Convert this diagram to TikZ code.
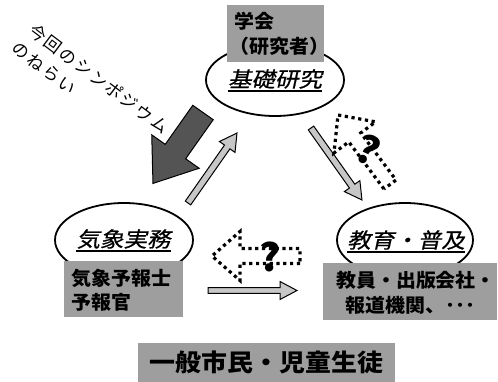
\documentclass[tikz,border=0pt]{standalone}
\usepackage{fontspec}
\usetikzlibrary{shapes.geometric}
\newfontfamily\cjk{Noto Sans CJK JP}[FakeStretch=1.05]
\newfontfamily\cjkit{Noto Sans CJK JP}[FakeStretch=1.12,FakeSlant=0.22,FakeBold=0.6]
\newfontfamily\cjkrot{Noto Sans CJK JP}[LetterSpace=12]
\newfontfamily\cjkbig{Noto Sans CJK JP}[FakeStretch=1.08]
\definecolor{boxgray}{gray}{0.62}
\definecolor{darkarr}{gray}{0.33}
\definecolor{lightarr}{gray}{0.78}
\tikzset{
  pics/blockarrow/.style n args={4}{code={
    \path[pic actions] (0,-#2) -- ({#1-#3},-#2) -- ({#1-#3},-#4) -- (#1,0)
      -- ({#1-#3},#4) -- ({#1-#3},#2) -- (0,#2) -- cycle;
  }},
  ell/.style={ellipse, draw, line width=1.8pt, fill=white, inner sep=0},
  gbox/.style={rectangle, fill=boxgray, inner sep=0},
  btxt/.style={inner sep=0, font=\cjk\bfseries\fontsize{19}{22}\selectfont},
  lbl/.style={inner sep=0, font=\cjkit\fontsize{21}{24}\selectfont},
  rottxt/.style={inner sep=0, rotate=-37, font=\cjkrot\fontsize{17}{20}\selectfont},
  qm/.style={inner sep=0, font=\cjk\bfseries\fontsize{38}{44}\selectfont},
  bigtxt/.style={inner sep=0, font=\cjkbig\bfseries\fontsize{24}{28}\selectfont},
  dotline/.style={draw, line width=3.2pt, dash pattern=on 3.2pt off 3.6pt},
  darrow/.style={draw, fill=darkarr, line width=1pt},
  larrow/.style={draw, fill=lightarr, line width=1pt},
  uline/.style={line width=1.6pt}
}
\begin{document}
\begin{tikzpicture}[x=1pt,y=-1pt]
\useasboundingbox (0,0) rectangle (498,382);

% rotated text
\node[rottxt] (r1) at (99,79) {今回のシンポジウム};
\node[rottxt] (r2) at (44,68) {のねらい};

% ellipses
\node[ell, minimum width=138pt, minimum height=72pt] (e1) at (275,80) {};
\node[ell, minimum width=138pt, minimum height=74pt] (e2) at (124,240) {};
\node[ell, minimum width=136pt, minimum height=74pt] (e3) at (405,240) {};

% grey boxes
\node[gbox, minimum width=97pt, minimum height=57pt] (b1) at (275.5,33.5) {};
\node[gbox, minimum width=119pt, minimum height=56pt] (b2) at (123.5,289) {};
\node[gbox, minimum width=174pt, minimum height=57pt] (b3) at (410,291.5) {};
\node[gbox, minimum width=257pt, minimum height=39pt] (b4) at (266.5,362.5) {};

% box texts
\node[btxt, anchor=west] (t1) at (234,21) {学会};
\node[btxt, anchor=west] (t2) at (229,46) {（研究者）};
\node[btxt, anchor=west] (t3) at (71,278) {気象予報士};
\node[btxt, anchor=west] (t4) at (71,302) {予報官};
\node[btxt] (t5) at (416,280) {教員・出版会社・};
\node[btxt] (t6) at (410.5,305) {報道機関、･･･};
\node[bigtxt] (t7) at (266.5,362) {一般市民・児童生徒};

% ellipse labels
\node[lbl] (l1) at (275,79) {基礎研究};
\node[lbl] (l2) at (123.5,239) {気象実務};
\node[lbl] (l3) at (406,240) {教育・普及};
\draw[uline] ([yshift=-2pt]l1.south west) -- ([yshift=-2pt]l1.south east);
\draw[uline] ([yshift=-2pt]l2.south west) -- ([yshift=-2pt]l2.south east);
\draw[uline] ([yshift=-2pt]l3.south west) -- ([yshift=-2pt]l3.south east);

% arrows
\coordinate (tA) at (203,112.5);
\coordinate (tB) at (188,203);
\coordinate (tC) at (311,128);
\coordinate (tD) at (208,290.5);
\coordinate (tE) at (300,256);
\coordinate (tF) at (390,184.5);
\pic[darrow, rotate=-125.2] at (tA) {blockarrow={86.8}{12.5}{39}{29}};
\pic[larrow, rotate=55] at (tB) {blockarrow={85.4}{3.3}{17}{9.5}};
\pic[larrow, rotate=-54.7] at (tC) {blockarrow={88.2}{3.3}{17}{9.5}};
\pic[larrow, rotate=0] at (tD) {blockarrow={89}{2.8}{17}{9}};
\pic[dotline, rotate=180] at (tE) {blockarrow={88}{7.5}{28}{24.5}};
\pic[dotline, rotate=126.8] at (tF) {blockarrow={86.8}{7.5}{28}{26}};

% question marks
\node[qm] (q1) at (270,257) {?};
\node[qm, rotate=-25] (q2) at (368,150) {?};
\end{tikzpicture}
\end{document}
